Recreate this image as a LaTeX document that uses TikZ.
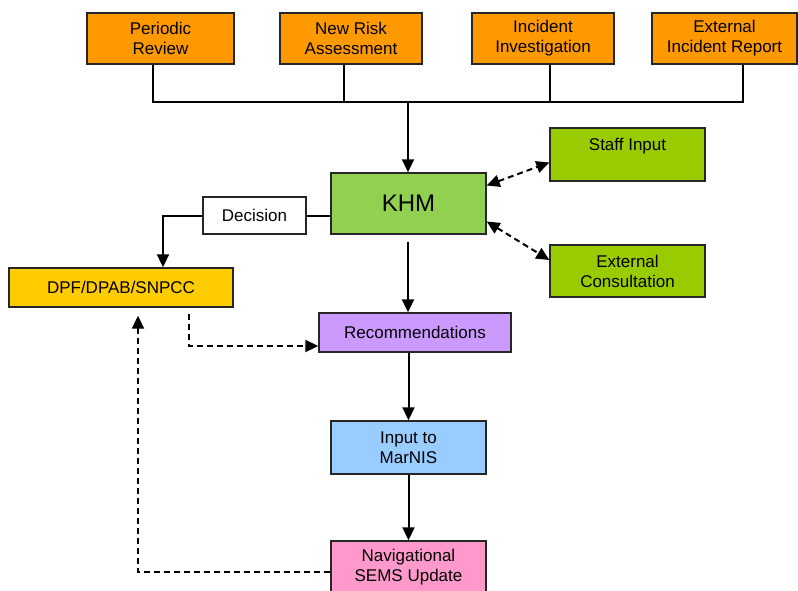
\documentclass[tikz,border=0pt]{standalone}
\usepackage{fontspec}
\setmainfont{Liberation Sans}
\usepackage{tikz}
\usetikzlibrary{arrows.meta}
\definecolor{khmorange}{HTML}{FF9900}
\definecolor{khmgreen}{HTML}{92D050}
\definecolor{khmlime}{HTML}{99CC00}
\definecolor{khmgold}{HTML}{FFCC00}
\definecolor{khmlilac}{HTML}{CC99FF}
\definecolor{khmblue}{HTML}{99CCFF}
\definecolor{khmpink}{HTML}{FF99CC}
\tikzset{
	flowbox/.style={rectangle, draw=black!85, line width=1.4pt, align=center, inner sep=0pt, font=\fontsize{17}{20}\selectfont},
	flowline/.style={line width=2pt, black},
	flowarrow/.style={flowline, -{Triangle[length=13pt,width=12pt]}},
	flowdash/.style={flowarrow, dash pattern=on 6pt off 4pt},
	bothtips/.style={{Triangle[length=13pt,width=12pt]}-{Triangle[length=13pt,width=12pt]}}
}
\begin{document}
\begin{tikzpicture}[x=1pt,y=-1pt]
			\useasboundingbox (0,0) rectangle (798,590);
			
			\node[flowbox, fill=khmorange, minimum width=147, minimum height=51] (review) at (160.5,38.5) {Periodic\\Review};
			\node[flowbox, fill=khmorange, minimum width=142, minimum height=51] (risk) at (351,38.5) {New Risk\\Assessment};
			\node[flowbox, fill=khmorange, minimum width=142, minimum height=51] (invest) at (543,38.5) {Incident\\Investigation};
			\node[flowbox, fill=khmorange, minimum width=145, minimum height=51] (extrep) at (724.5,38.5) {External\\Incident Report};
			
			\node[flowbox, fill=khmgreen, minimum width=155, minimum height=61, font=\fontsize{24}{28}\selectfont] (khm) at (408.5,203.5) {KHM};
			\node[flowbox, fill=khmlime, minimum width=155, minimum height=53] (staff) at (627.5,154.5) {Staff Input\\\mbox{}};
			\node[flowbox, fill=khmlime, minimum width=155, minimum height=52] (consult) at (627.5,271) {External\\Consultation};
			\node[flowbox, fill=white, minimum width=103, minimum height=37] (decision) at (254.5,215.5) {Decision};
			\node[flowbox, fill=khmgold, minimum width=224, minimum height=39] (dpf) at (121,287.5) {DPF/DPAB/SNPCC};
			\node[flowbox, fill=khmlilac, minimum width=192, minimum height=39] (recs) at (415,332.5) {Recommendations};
			\node[flowbox, fill=khmblue, minimum width=155, minimum height=53] (marnis) at (408.5,447.5) {Input to\\MarNIS};
			\node[flowbox, fill=khmpink, minimum width=155, minimum height=52] (sems) at (408.5,567) {Navigational\\SEMS Update};
			
			% sources into KHM
			\coordinate (join) at (408,102);
			\draw[flowline] ([xshift=-8]review.south) |- ([xshift=18.5]extrep.south |- join) -- ([xshift=18.5]extrep.south);
			\draw[flowline] ([xshift=-7]risk.south) -- ([xshift=-7]risk.south |- join);
			\draw[flowline] ([xshift=7]invest.south) -- ([xshift=7]invest.south |- join);
			\draw[flowarrow] (join) -- (join |- khm.north);
			
			% consultation
			\draw[flowdash, bothtips] ([yshift=18]khm.east) -- ([yshift=-8]staff.west);
			\draw[flowdash, bothtips] ([yshift=-18]khm.east) -- ([yshift=11]consult.west);
			
			% decision branch
			\draw[flowline] (decision.east) -- (decision.east -| khm.west);
			\draw[flowarrow] (decision.west) -| ([xshift=42]dpf.north);
			
			% main chain
			\draw[flowarrow, shorten <=7pt] (join |- khm.south) -- (join |- recs.north);
			\draw[flowarrow] (marnis.north |- recs.south) -- (marnis.north);
			\draw[flowarrow] (marnis.south) -- (sems.north);
			
			% feedback
			\draw[flowdash] ([xshift=68,yshift=-6]dpf.south) |- ([yshift=-13.5]recs.west);
			\draw[flowdash] ([yshift=-5]sems.west) -| ([xshift=17,yshift=-8]dpf.south);
		\end{tikzpicture}
\end{document}
